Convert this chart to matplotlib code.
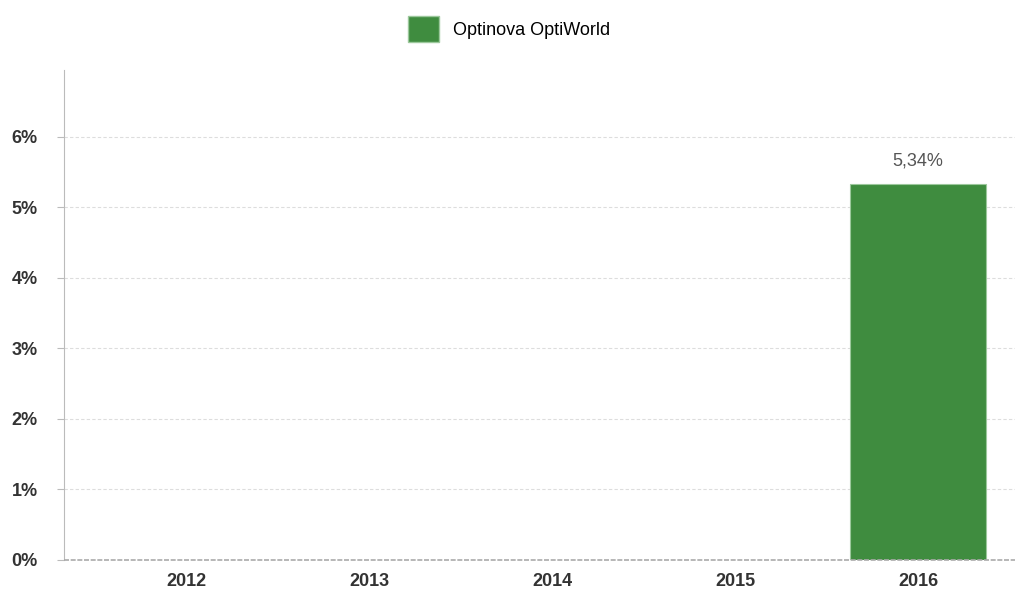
import matplotlib.pyplot as plt
from matplotlib.patches import Patch

plt.rcParams["font.family"] = ["Liberation Sans", "DejaVu Sans"]

years = ["2012", "2013", "2014", "2015", "2016"]
values = [None, None, None, None, 5.34]
series_name = "Optinova OptiWorld"
y_ticks = [0, 1, 2, 3, 4, 5, 6]

green = "#3f8c3f"

fig = plt.figure(figsize=(10.18, 5.94), dpi=100)
ax = fig.add_axes([64 / 1018, 34 / 594, 951 / 1018, 490 / 594])

x = list(range(len(years)))
for xi, v in zip(x, values):
    if v is None:
        continue
    ax.bar(xi, v, width=0.74, color=green, edgecolor="#9cc89c", linewidth=0.8, zorder=3)
    ax.text(xi, v + 0.2, f"{v:.2f}".replace(".", ",") + "%", ha="center", va="bottom",
            fontsize=13, color="#555555")

ax.set_xlim(-0.667, 4.53)
ax.set_ylim(0, 6.95)
ax.set_xticks(x)
ax.set_xticklabels(years)
ax.set_yticks(y_ticks)
ax.set_yticklabels([f"{t}%" for t in y_ticks])

for t in y_ticks[1:]:
    ax.axhline(t, color="#dddddd", linestyle=(0, (3, 2)), linewidth=0.8, zorder=1)
ax.axhline(0, color="#aaaaaa", linestyle=(0, (3, 1)), linewidth=1.2, zorder=4, clip_on=False)

for s in ["top", "right", "bottom"]:
    ax.spines[s].set_visible(False)
ax.spines["left"].set_color("#bbbbbb")
ax.tick_params(axis="y", length=5, color="#bbbbbb", labelsize=13, labelcolor="#333333", pad=14)
ax.tick_params(axis="x", length=0, labelsize=13, labelcolor="#333333", pad=9)
for lbl in ax.get_xticklabels() + ax.get_yticklabels():
    lbl.set_fontweight("bold")

fig.legend(handles=[Patch(facecolor=green, edgecolor="#9cc89c", label=series_name)],
           loc="upper center", bbox_to_anchor=(0.5, 1.0), frameon=False, fontsize=13,
           handlelength=1.7, handleheight=1.8, handletextpad=0.8)

fig.savefig("out.png", dpi=100)
